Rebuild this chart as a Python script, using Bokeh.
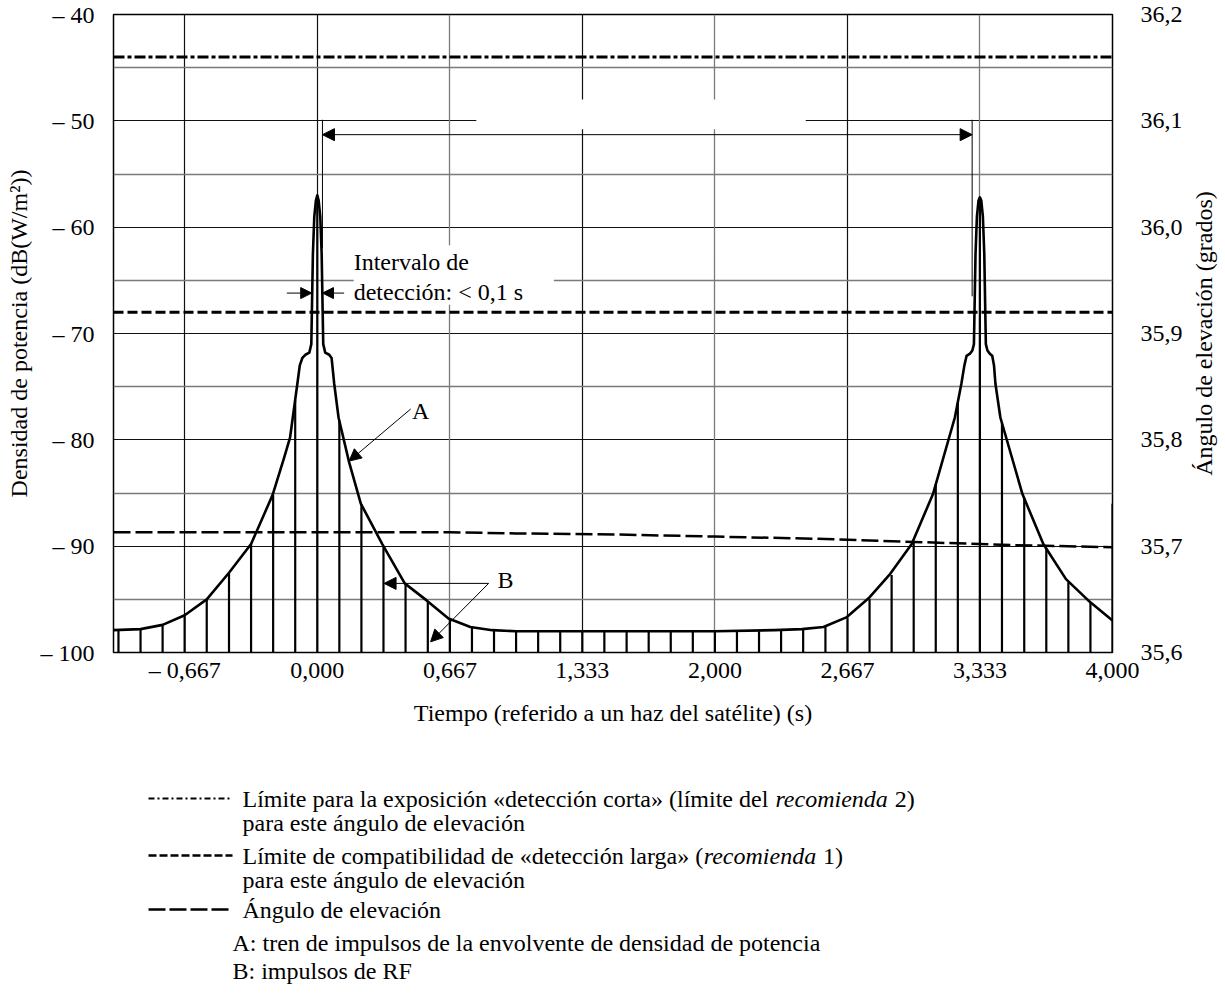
import math
from bokeh.plotting import figure
from bokeh.models import Range1d, LinearAxis, FixedTicker, Grid, Arrow, NormalHead, Span
from bokeh.layouts import column, row
from bokeh.embed import file_html
from bokeh.resources import INLINE
from bokeh.core.properties import value

FONT = "Liberation Serif"
FS = 24

# ---------------- data ----------------
x_ticks = [-0.667, 0, 0.667, 1.333, 2, 2.667, 3.333, 4]
x_tick_labels = ["– 0,667", "0,000", "0,667", "1,333", "2,000", "2,667", "3,333", "4,000"]
y_ticks = [-100, -90, -80, -70, -60, -50, -40]
y_tick_labels = ["– 100", "– 90", "– 80", "– 70", "– 60", "– 50", "– 40"]
y_major_grid = [-90, -80, -70, -60, -50]
y_minor_grid = [-95, -85, -75, -65, -55, -45]
x_major_grid = [-0.667, 0, 1.333, 2.667]
x_minor_grid = [0.667, 2, 3.333]
angle_ticks = [35.6, 35.7, 35.8, 35.9, 36, 36.1, 36.2]
angle_tick_labels = ["35,6", "35,7", "35,8", "35,9", "36,0", "36,1", "36,2"]

limit_short_db = -44.0   # «detección corta»
limit_long_db = -68.0    # «detección larga»

# envelope A (power density envelope), dB(W/m2)
env_t = [-1.025, -0.889, -0.778, -0.667, -0.556, -0.444, -0.333, -0.225, -0.167, -0.137,
         -0.100, -0.088, -0.075, -0.060, -0.040, -0.030, -0.022, -0.015, -0.007, 0.000,
         0.007, 0.015, 0.022, 0.030, 0.040, 0.060, 0.072, 0.085, 0.107, 0.160,
         0.219, 0.327, 0.440, 0.550, 0.660, 0.770, 0.880, 1.000, 1.500, 2.000,
         2.300, 2.438, 2.546, 2.661, 2.773, 2.882, 2.990, 3.097, 3.207, 3.240,
         3.255, 3.266, 3.283, 3.295, 3.303, 3.311, 3.318, 3.326, 3.333, 3.340,
         3.348, 3.355, 3.363, 3.371, 3.383, 3.395, 3.404, 3.411, 3.436, 3.547,
         3.652, 3.766, 3.878, 4.000]
env_db = [-97.9, -97.8, -97.4, -96.5, -95.0, -92.5, -89.8, -85.2, -81.7, -79.8,
          -74.7, -73.0, -72.3, -72.0, -71.8, -71.0, -62.5, -59.0, -57.5, -57.0,
          -57.5, -59.0, -62.5, -71.0, -71.8, -72.0, -72.3, -74.7, -77.9, -82.1,
          -86.0, -89.8, -93.5, -95.1, -96.8, -97.6, -97.9, -98.0, -98.0, -98.0,
          -97.9, -97.8, -97.6, -96.7, -94.9, -92.6, -89.8, -85.1, -77.9, -74.7,
          -73.0, -72.1, -71.9, -71.6, -71.0, -62.5, -59.0, -57.5, -57.2, -57.5,
          -59.0, -62.5, -71.0, -71.6, -71.9, -72.1, -73.0, -74.7, -77.9, -85.1,
          -89.8, -93.1, -95.1, -97.0]

# B: RF pulses
pulse_t = [-1.000, -0.889, -0.778, -0.667, -0.556, -0.444, -0.333, -0.222, -0.111,
           0.000, 0.111, 0.222, 0.333, 0.444, 0.556, 0.667, 0.778, 0.889,
           1.000, 1.111, 1.222, 1.333, 1.444, 1.556, 1.667, 1.778, 1.889, 2.000, 2.111, 2.222,
           2.333, 2.444, 2.556, 2.667, 2.778, 2.889, 3.000, 3.111, 3.222,
           3.333, 3.444, 3.556, 3.667, 3.778, 3.889, 4.000]
pulse_db = [-97.9, -97.8, -97.4, -96.5, -95.0, -92.5, -89.8, -85.2, -76.3,
            -57.0, -78.2, -86.1, -90.0, -93.6, -95.2, -96.8, -97.6, -97.9,
            -98.0, -98.0, -98.0, -98.0, -98.0, -98.0, -98.0, -98.0, -98.0, -98.0, -98.0, -98.0,
            -97.9, -97.8, -97.5, -96.7, -95.0, -92.7, -89.6, -84.2, -76.5,
            -57.2, -78.4, -85.5, -90.2, -93.4, -95.3, -86.0]

# elevation angle (degrees, right axis)
elev_t = [-1.025, 0.0, 0.667, 1.0, 1.5, 2.0, 2.5, 3.0, 3.5, 4.0]
elev_deg = [35.713, 35.713, 35.713, 35.712, 35.711, 35.709, 35.707, 35.704, 35.701, 35.699]


def key(v):
    return int(v) if float(v).is_integer() else v


# ---------------- main figure ----------------
W = 1225
SIDE_W = 36
H_MAIN = 740
p = figure(width=W - SIDE_W, height=H_MAIN, x_range=Range1d(-1.025, 4.0),
           y_range=Range1d(-100, -40), output_backend="svg", toolbar_location=None,
           min_border_left=113, min_border_right=W - SIDE_W - 1112,
           min_border_top=14, min_border_bottom=88)
p.outline_line_color = "black"
p.outline_line_width = 1.5
p.background_fill_color = "white"
p.border_fill_color = "white"

# grids
p.xgrid.ticker = FixedTicker(ticks=x_major_grid)
p.xgrid.grid_line_color = "#111111"
p.xgrid.grid_line_width = 1.2
p.ygrid.ticker = FixedTicker(ticks=y_major_grid)
p.ygrid.grid_line_color = "#111111"
p.ygrid.grid_line_width = 1.2
p.add_layout(Grid(dimension=0, ticker=FixedTicker(ticks=x_minor_grid),
                  grid_line_color="#7a7a7a", grid_line_width=1.3))
p.add_layout(Grid(dimension=1, ticker=FixedTicker(ticks=y_minor_grid),
                  grid_line_color="#7a7a7a", grid_line_width=1.3))

# axes
def style_axis(ax):
    ax.major_tick_line_color = None
    ax.minor_tick_line_color = None
    ax.axis_line_color = None
    ax.major_label_text_font = FONT
    ax.major_label_text_font_size = f"{FS}px"
    ax.major_label_text_color = "black"
    ax.axis_label_text_font = FONT
    ax.axis_label_text_font_size = f"{FS}px"
    ax.axis_label_text_font_style = "normal"
    ax.axis_label_text_color = "black"

p.xaxis.ticker = FixedTicker(ticks=x_ticks)
p.xaxis.major_label_overrides = {key(t): s for t, s in zip(x_ticks, x_tick_labels)}
p.xaxis.axis_label = "Tiempo (referido a un haz del satélite) (s)"
p.xaxis.major_label_standoff = -2
p.xaxis.axis_label_standoff = 14
style_axis(p.xaxis[0])

p.yaxis.ticker = FixedTicker(ticks=y_ticks)
p.yaxis.major_label_overrides = {key(t): s for t, s in zip(y_ticks, y_tick_labels)}
p.yaxis.axis_label = "Densidad de potencia (dB(W/m²))"
p.yaxis.major_label_standoff = 13
p.yaxis.axis_label_standoff = 6
style_axis(p.yaxis[0])

p.extra_y_ranges = {"angle": Range1d(35.6, 36.2)}
rax = LinearAxis(y_range_name="angle", ticker=FixedTicker(ticks=angle_ticks))
rax.major_label_overrides = {key(t): s for t, s in zip(angle_ticks, angle_tick_labels)}
rax.major_label_standoff = 22
style_axis(rax)
p.add_layout(rax, "right")

# white boxes masking grid behind texts
p.quad(left=[0.8, 0.183], right=[2.457, 1.19], bottom=[-50.8, -67.3], top=[-48.0, -61.7],
       fill_color="white", line_color=None)

# limit lines
p.add_layout(Span(location=limit_short_db, dimension="width", line_color="black",
                  line_width=3, line_dash="11 3 4 3"))
p.add_layout(Span(location=limit_long_db, dimension="width", line_color="black",
                  line_width=3, line_dash="10 4"))

# elevation angle
p.line(elev_t, elev_deg, y_range_name="angle", line_color="black", line_width=2.5,
       line_dash="17 5")

# RF pulses
p.segment(x0=pulse_t, y0=[-100] * len(pulse_t), x1=pulse_t, y1=pulse_db,
          line_color="black", line_width=2.2)

# envelope
p.line(env_t, env_db, line_color="black", line_width=2.6, line_join="round")

# dimension arrow between beams
p.segment(x0=[0.026, 3.294], y0=[-49.9, -49.9], x1=[0.026, 3.294], y1=[-62.0, -66.5],
          line_color="black", line_width=1)
p.add_layout(Arrow(start=NormalHead(size=12, fill_color="black", line_color="black"),
                   end=NormalHead(size=12, fill_color="black", line_color="black"),
                   x_start=0.026, y_start=-51.3, x_end=3.294, y_end=-51.3,
                   line_color="black", line_width=1))

# detection interval arrows
p.add_layout(Arrow(end=NormalHead(size=11, fill_color="black", line_color="black"),
                   x_start=-0.153, y_start=-66.2, x_end=-0.028, y_end=-66.2,
                   line_color="black", line_width=1))
p.add_layout(Arrow(end=NormalHead(size=11, fill_color="black", line_color="black"),
                   x_start=0.135, y_start=-66.2, x_end=0.026, y_end=-66.2,
                   line_color="black", line_width=1))
p.text(x=[0.183, 0.183], y=[-63.3, -66.1], text=["Intervalo de", "detección: < 0,1 s"],
       text_font=value(FONT), text_font_size=f"{FS}px", text_align="left",
       text_baseline="middle", text_color="black")

# A and B labels
p.text(x=[0.52, 0.947], y=[-77.3, -93.2], text=["A", "B"], text_font=value(FONT),
       text_font_size=f"{FS}px", text_align="center", text_baseline="middle",
       text_color="black")
p.add_layout(Arrow(end=NormalHead(size=12, fill_color="black", line_color="black"),
                   x_start=0.47, y_start=-77.1, x_end=0.16, y_end=-82.0,
                   line_color="black", line_width=1))
p.add_layout(Arrow(end=NormalHead(size=12, fill_color="black", line_color="black"),
                   x_start=0.862, y_start=-93.5, x_end=0.336, y_end=-93.5,
                   line_color="black", line_width=1))
p.add_layout(Arrow(end=NormalHead(size=12, fill_color="black", line_color="black"),
                   x_start=0.862, y_start=-93.5, x_end=0.570, y_end=-99.0,
                   line_color="black", line_width=1))

# ---------------- right-axis title strip ----------------
side = figure(width=SIDE_W, height=H_MAIN, x_range=Range1d(0, 1), y_range=Range1d(0, 1),
              output_backend="svg", toolbar_location=None, x_axis_type=None,
              y_axis_type=None, min_border_left=0, min_border_right=0,
              min_border_top=14, min_border_bottom=88)
side.grid.visible = False
side.outline_line_color = None
side.text(x=[0.4], y=[0.5], text=["Ángulo de elevación (grados)"], angle=math.pi / 2,
          text_font=value(FONT), text_font_size=f"{FS}px", text_align="center",
          text_baseline="middle", text_color="black")

# ---------------- legend figure (page pixel coordinates) ----------------
H_LEG = 250
top = H_MAIN
leg = figure(width=W, height=H_LEG, x_range=Range1d(113, W - 113),
             y_range=Range1d(top + H_LEG, top), output_backend="svg",
             toolbar_location=None, min_border_left=113, min_border_right=113,
             min_border_top=0, min_border_bottom=0, x_axis_type=None, y_axis_type=None)
leg.grid.visible = False
leg.outline_line_color = None

leg.line([148, 232], [798, 798], line_color="black", line_width=2, line_dash="6 3 2 3")
leg.line([148, 232], [855, 855], line_color="black", line_width=2.5, line_dash="8 3")
leg.line([148, 232], [909, 909], line_color="black", line_width=2.5, line_dash="17 4")

tx = 242
row1_a = "Límite para la exposición «detección corta» (límite del"
row2_a = "Límite de compatibilidad de «detección larga» ("
it1 = tx + 22.163 * FS + 1
it2 = tx + 19.219 * FS
it_w = 4.721 * FS + 0.25 * FS

leg.text(x=[tx, tx, tx, tx, tx, 232, 232],
         y=[798, 822, 855, 879, 909, 942, 970],
         text=[row1_a, "para este ángulo de elevación", row2_a,
               "para este ángulo de elevación", "Ángulo de elevación",
               "A: tren de impulsos de la envolvente de densidad de potencia",
               "B: impulsos de RF"],
         text_font=value(FONT), text_font_size=f"{FS}px", text_align="left",
         text_baseline="middle", text_color="black")
leg.text(x=[it1, it2], y=[798, 855], text=["recomienda", "recomienda"],
         text_font=value(FONT), text_font_size=f"{FS}px", text_font_style="italic",
         text_align="left", text_baseline="middle", text_color="black")
leg.text(x=[it1 + it_w, it2 + it_w], y=[798, 855], text=["2)", "1)"],
         text_font=value(FONT), text_font_size=f"{FS}px", text_align="left",
         text_baseline="middle", text_color="black")

layout = column(row(p, side), leg)
open("out.html", "w").write(file_html(layout, INLINE))
